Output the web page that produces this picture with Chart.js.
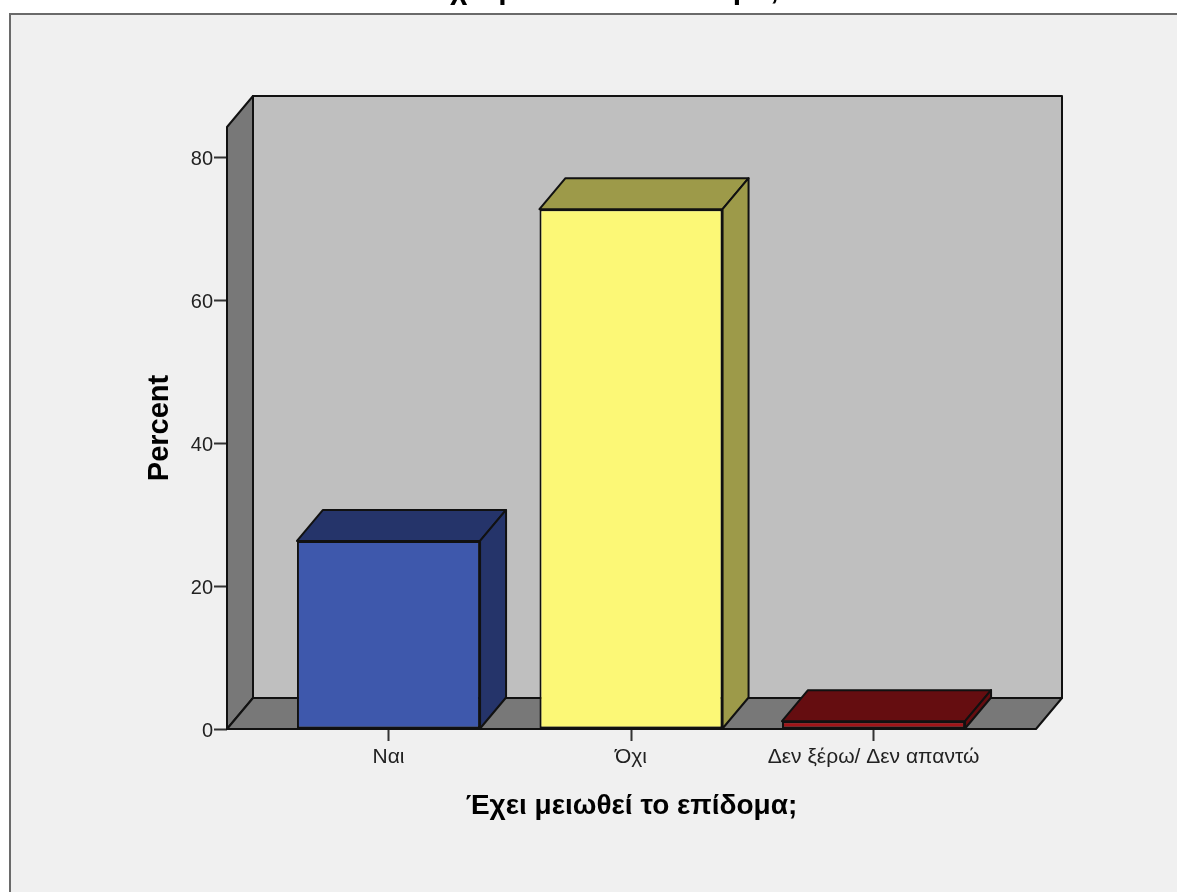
<!DOCTYPE html>
<html>
<head>
<meta charset="utf-8">
<title>Έχει μειωθεί το επίδομα;</title>
<script src="https://cdn.jsdelivr.net/npm/chart.js@4"></script>
<style>
  html, body { margin: 0; padding: 0; background: #fff; overflow: hidden; }
  #appChart { display: block; }
</style>
</head>
<body>
<canvas id="appChart" width="1177" height="892"></canvas>
<script>
// values
const categories = ["Ναι", "Όχι", "Δεν ξέρω/ Δεν απαντώ"];
const percentValues = [26.3, 72.7, 1.1];
const yTickValues = [0, 20, 40, 60, 80];
const frontColors = ["#3e58ac", "#fcf876", "#a01418"];
const shadeColors = ["#25346a", "#9d9a49", "#650d10"];

const chartTitle = "Έχει μειωθεί το επίδομα;";
const xAxisTitle = "Έχει μειωθεί το επίδομα;";
const yAxisTitle = "Percent";

// depth of the fake 3D box
const depthX = 26;
const depthY = 31;

function polygon(ctx, points, fill) {
  ctx.beginPath();
  ctx.moveTo(points[0][0], points[0][1]);
  for (let i = 1; i < points.length; i++) {
    ctx.lineTo(points[i][0], points[i][1]);
  }
  ctx.closePath();
  ctx.fillStyle = fill;
  ctx.fill();
  ctx.lineWidth = 2;
  ctx.strokeStyle = "#111";
  ctx.lineJoin = "round";
  ctx.stroke();
}

const panelPlugin = {
  id: "panel",
  beforeDraw(chart) {
    const ctx = chart.ctx;
    ctx.save();
    ctx.fillStyle = "#fff";
    ctx.fillRect(0, 0, chart.width, chart.height);
    ctx.fillStyle = "#f0f0f0";
    ctx.fillRect(10, 14, chart.width - 10, chart.height - 14);
    ctx.fillStyle = "#6a6a6a";
    ctx.fillRect(9, 13, chart.width - 9, 2);
    ctx.fillRect(9, 13, 2, chart.height - 13);
    // the title sits above the panel and is cut by the top of the picture
    ctx.fillStyle = "#000";
    ctx.font = "bold 30px 'Liberation Sans'";
    ctx.textAlign = "center";
    ctx.textBaseline = "alphabetic";
    ctx.fillText(chartTitle, 602, -1);
    ctx.restore();
  },
};

const boxPlugin = {
  id: "box3d",
  beforeDatasetsDraw(chart) {
    const ctx = chart.ctx;
    const a = chart.chartArea;
    ctx.save();
    // back wall, left wall, floor
    polygon(ctx, [[a.left + depthX, a.top - depthY], [a.right + depthX, a.top - depthY], [a.right + depthX, a.bottom - depthY], [a.left + depthX, a.bottom - depthY]], "#bfbfbf");
    polygon(ctx, [[a.left, a.top], [a.left + depthX, a.top - depthY], [a.left + depthX, a.bottom - depthY], [a.left, a.bottom]], "#787878");
    polygon(ctx, [[a.left, a.bottom], [a.left + depthX, a.bottom - depthY], [a.right + depthX, a.bottom - depthY], [a.right, a.bottom]], "#787878");
    ctx.restore();
  },
  afterDatasetsDraw(chart) {
    const ctx = chart.ctx;
    const bars = chart.getDatasetMeta(0).data;
    ctx.save();
    bars.forEach((bar, i) => {
      const p = bar.getProps(["x", "y", "base", "width"], true);
      const l = p.x - p.width / 2;
      const r = p.x + p.width / 2;
      polygon(ctx, [[l, p.y], [l + depthX, p.y - depthY], [r + depthX, p.y - depthY], [r, p.y]], shadeColors[i]);
      polygon(ctx, [[r, p.y], [r + depthX, p.y - depthY], [r + depthX, p.base - depthY], [r, p.base]], shadeColors[i]);
    });
    ctx.restore();
  },
};

new Chart(document.getElementById("appChart"), {
  type: "bar",
  data: {
    datasets: [{
      data: percentValues.map((v, i) => ({ x: i, y: v })),
      backgroundColor: frontColors,
      borderColor: "#111",
      borderWidth: 2,
      borderSkipped: false,
      barPercentage: 0.755,
      categoryPercentage: 1,
    }],
  },
  options: {
    responsive: false,
    animation: false,
    layout: { padding: { left: 143, top: 127, right: 141, bottom: 69 } },
    plugins: { legend: { display: false }, title: { display: false }, tooltip: { enabled: false } },
    scales: {
      x: {
        type: "linear",
        offset: false,
        min: -0.666,
        max: 2.67,
        afterBuildTicks(axis) {
          axis.ticks = categories.map((c, i) => ({ value: i }));
        },
        afterFit(axis) { axis.height = 94; },
        grid: { offset: false, drawOnChartArea: false, tickLength: 12, tickColor: "#333", tickWidth: 2 },
        border: { display: false },
        ticks: {
          autoSkip: false,
          maxRotation: 0,
          padding: 4,
          color: "#222",
          font: { family: "'Liberation Sans'", size: 21 },
          callback: (value) => categories[value],
        },
        title: {
          display: true,
          text: xAxisTitle,
          color: "#000",
          padding: { top: 14, bottom: 0 },
          font: { family: "'Liberation Sans'", size: 28, weight: "bold" },
        },
      },
      y: {
        min: 0,
        max: 84.2,
        afterBuildTicks(axis) {
          axis.ticks = yTickValues.map((v) => ({ value: v }));
        },
        afterFit(axis) { axis.width = 84; },
        grid: { drawOnChartArea: false, tickLength: 13, tickColor: "#333", tickWidth: 2 },
        border: { display: false },
        ticks: {
          padding: 1,
          labelOffset: 2,
          color: "#222",
          font: { family: "'Liberation Sans'", size: 20 },
        },
        title: {
          display: true,
          text: yAxisTitle,
          color: "#000",
          padding: { top: 0, bottom: 0 },
          font: { family: "'Liberation Sans'", size: 29, weight: "bold" },
        },
      },
    },
  },
  plugins: [panelPlugin, boxPlugin],
});
</script>
</body>
</html>
